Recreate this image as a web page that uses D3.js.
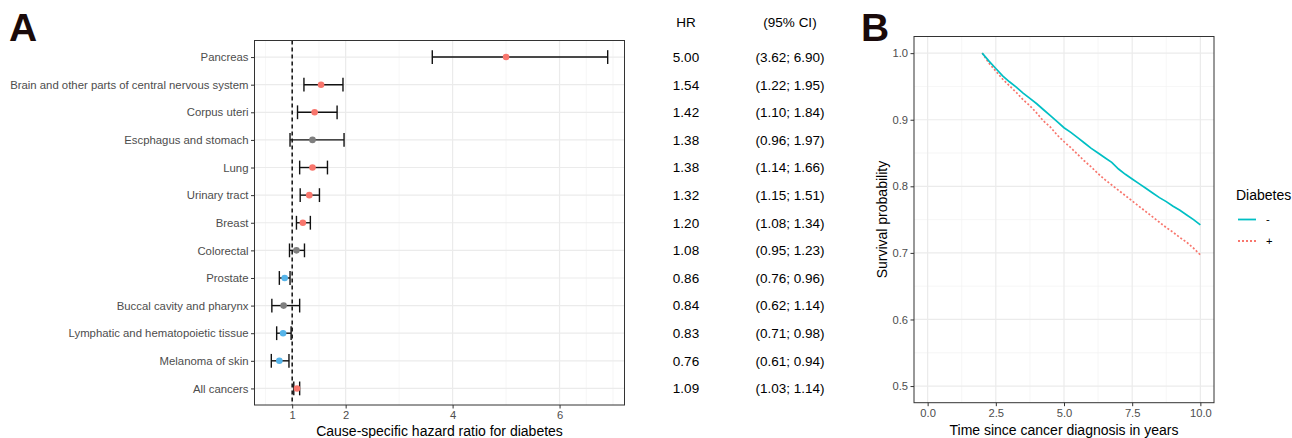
<!DOCTYPE html>
<html>
<head>
<meta charset="utf-8">
<script src="https://cdn.jsdelivr.net/npm/d3@7"></script>
<style>
  body { margin: 0; background: #fff; }
  svg { font-family: "Liberation Sans", Arial, sans-serif; }
</style>
</head>
<body>
<script>
// panel A data - cause-specific hazard ratios
const causes = ["Pancreas", "Brain and other parts of central nervous system", "Corpus uteri",
  "Escphagus and stomach", "Lung", "Urinary tract", "Breast", "Colorectal", "Prostate",
  "Buccal cavity and pharynx", "Lymphatic and hematopoietic tissue", "Melanoma of skin", "All cancers"];
const hr =    [5.00, 1.54, 1.42, 1.38, 1.38, 1.32, 1.20, 1.08, 0.86, 0.84, 0.83, 0.76, 1.09];
const lower = [3.62, 1.22, 1.10, 0.96, 1.14, 1.15, 1.08, 0.95, 0.76, 0.62, 0.71, 0.61, 1.03];
const upper = [6.90, 1.95, 1.84, 1.97, 1.66, 1.51, 1.34, 1.23, 0.96, 1.14, 0.98, 0.94, 1.14];
const effect = ["up", "up", "up", "ns", "up", "up", "up", "ns", "down", "ns", "down", "down", "up"];
const hrTicks = [1, 2, 4, 6];
const hrMinor = [0.5, 1.5, 3, 5, 6.5, 7];

// panel B data - survival curves
const years = [2.0, 2.25, 2.5, 2.75, 3.0, 3.25, 3.5, 3.75, 4.0, 4.25, 4.5, 4.75, 5.0, 5.25, 5.5, 5.75,
  6.0, 6.25, 6.5, 6.75, 7.0, 7.25, 7.5, 7.75, 8.0, 8.25, 8.5, 8.75, 9.0, 9.25, 9.5, 9.75, 10.0];
const survNoDiab = [1.000, 0.988, 0.977, 0.966, 0.957, 0.949, 0.940, 0.932, 0.924, 0.915, 0.906, 0.897,
  0.888, 0.881, 0.873, 0.865, 0.857, 0.850, 0.843, 0.836, 0.826, 0.818, 0.811, 0.804, 0.797, 0.790,
  0.783, 0.777, 0.770, 0.764, 0.757, 0.750, 0.742];
const survDiab = [1.000, 0.985, 0.973, 0.961, 0.951, 0.941, 0.930, 0.921, 0.910, 0.898, 0.889, 0.877,
  0.867, 0.858, 0.848, 0.838, 0.829, 0.819, 0.810, 0.802, 0.794, 0.786, 0.778, 0.770, 0.762, 0.754,
  0.746, 0.738, 0.731, 0.723, 0.716, 0.707, 0.697];
const timeTicks = [0, 2.5, 5, 7.5, 10];
const timeMinor = [1.25, 3.75, 6.25, 8.75];
const survTicks = [0.5, 0.6, 0.7, 0.8, 0.9, 1.0];
const survMinor = [0.55, 0.65, 0.75, 0.85, 0.95];
const groups = ["-", "+"];

var w = 1292, h = 438;
var f2 = d3.format(".2f");
var effectColor = { up: "#F8766D", ns: "#7F7F7F", down: "#56B4E9" };

var svg = d3.select("body").append("svg")
  .attr("width", w)
  .attr("height", h);

// ---------- panel A ----------
var A = { left: 254.5, right: 624.5, top: 40.5, bottom: 405 };

var xLo = d3.min(lower), xHi = d3.max(upper), pad = (xHi - xLo) * 0.05;
var xA = d3.scaleLinear().domain([xLo - pad, xHi + pad]).range([A.left, A.right]);
var yA = d3.scalePoint().domain(causes).range([A.top, A.bottom]).padding(0.6);
var band = yA.step();

var gA = svg.append("g");

gA.selectAll(".minorA").data(hrMinor).enter().append("line")
  .attr("x1", d => xA(d)).attr("x2", d => xA(d))
  .attr("y1", A.top).attr("y2", A.bottom)
  .attr("stroke", "#F2F2F2").attr("stroke-width", 0.7);
gA.selectAll(".majorAx").data(hrTicks).enter().append("line")
  .attr("x1", d => xA(d)).attr("x2", d => xA(d))
  .attr("y1", A.top).attr("y2", A.bottom)
  .attr("stroke", "#EBEBEB").attr("stroke-width", 1.2);
gA.selectAll(".majorAy").data(causes).enter().append("line")
  .attr("x1", A.left).attr("x2", A.right)
  .attr("y1", d => yA(d)).attr("y2", d => yA(d))
  .attr("stroke", "#EBEBEB").attr("stroke-width", 1.2);

// reference line at HR = 1
gA.append("line")
  .attr("x1", xA(1)).attr("x2", xA(1))
  .attr("y1", A.top).attr("y2", A.bottom)
  .attr("stroke", "#000").attr("stroke-width", 1.4)
  .attr("stroke-dasharray", "4,3");

var rows = causes.map((c, i) => ({ cause: c, hr: hr[i], lo: lower[i], hi: upper[i], eff: effect[i] }));

var bars = gA.selectAll(".ci").data(rows).enter().append("g");
bars.append("line")
  .attr("x1", d => xA(d.lo)).attr("x2", d => xA(d.hi))
  .attr("y1", d => yA(d.cause)).attr("y2", d => yA(d.cause))
  .attr("stroke", "#111").attr("stroke-width", 1.4);
bars.append("line")
  .attr("x1", d => xA(d.lo)).attr("x2", d => xA(d.lo))
  .attr("y1", d => yA(d.cause) - band / 4).attr("y2", d => yA(d.cause) + band / 4)
  .attr("stroke", "#111").attr("stroke-width", 1.4);
bars.append("line")
  .attr("x1", d => xA(d.hi)).attr("x2", d => xA(d.hi))
  .attr("y1", d => yA(d.cause) - band / 4).attr("y2", d => yA(d.cause) + band / 4)
  .attr("stroke", "#111").attr("stroke-width", 1.4);
bars.append("circle")
  .attr("cx", d => xA(d.hr)).attr("cy", d => yA(d.cause))
  .attr("r", 3.3)
  .attr("fill", d => effectColor[d.eff]);

gA.append("rect")
  .attr("x", A.left).attr("y", A.top)
  .attr("width", A.right - A.left).attr("height", A.bottom - A.top)
  .attr("fill", "none").attr("stroke", "#333").attr("stroke-width", 1);

// axes
var xAxisA = d3.axisBottom(xA).tickValues(hrTicks).tickFormat(d3.format("d")).tickSize(3.5).tickPadding(3);
var yAxisA = d3.axisLeft(yA).tickSize(3.5).tickPadding(2.5);

gA.append("g").attr("class", "axis")
  .attr("transform", "translate(0," + A.bottom + ")")
  .call(xAxisA);
gA.append("g").attr("class", "axis yA")
  .attr("transform", "translate(" + A.left + ",0)")
  .call(yAxisA);

gA.append("text")
  .attr("x", (A.left + A.right) / 2).attr("y", 435.5)
  .attr("text-anchor", "middle")
  .attr("font-size", 14).attr("fill", "#000")
  .text("Cause-specific hazard ratio for diabetes");

// HR and CI columns
gA.append("text").attr("x", 686).attr("y", 27).attr("text-anchor", "middle")
  .attr("font-size", 13.5).text("HR");
gA.append("text").attr("x", 790).attr("y", 27).attr("text-anchor", "middle")
  .attr("font-size", 13.5).text("(95% CI)");
gA.selectAll(".hrtxt").data(rows).enter().append("text")
  .attr("x", 686).attr("y", d => yA(d.cause)).attr("dy", "0.36em")
  .attr("text-anchor", "middle").attr("font-size", 13.5)
  .text(d => f2(d.hr));
gA.selectAll(".citxt").data(rows).enter().append("text")
  .attr("x", 790).attr("y", d => yA(d.cause)).attr("dy", "0.36em")
  .attr("text-anchor", "middle").attr("font-size", 13.5)
  .text(d => "(" + f2(d.lo) + "; " + f2(d.hi) + ")");

// ---------- panel B ----------
var B = { left: 914, right: 1214, top: 36.5, bottom: 402.7 };
var xB = d3.scaleLinear().domain([-0.5, 10.5]).range([B.left, B.right]);
var yB = d3.scaleLinear().domain([0.475, 1.025]).range([B.bottom, B.top]);
var colB = d3.scaleOrdinal().domain(groups).range(["#00BFC4", "#F8766D"]);
var dashB = { "-": null, "+": "2,2" };

var gB = svg.append("g");

gB.selectAll(".minorBx").data(timeMinor).enter().append("line")
  .attr("x1", d => xB(d)).attr("x2", d => xB(d))
  .attr("y1", B.top).attr("y2", B.bottom)
  .attr("stroke", "#F2F2F2").attr("stroke-width", 0.7);
gB.selectAll(".minorBy").data(survMinor).enter().append("line")
  .attr("x1", B.left).attr("x2", B.right)
  .attr("y1", d => yB(d)).attr("y2", d => yB(d))
  .attr("stroke", "#F2F2F2").attr("stroke-width", 0.7);
gB.selectAll(".majorBx").data(timeTicks).enter().append("line")
  .attr("x1", d => xB(d)).attr("x2", d => xB(d))
  .attr("y1", B.top).attr("y2", B.bottom)
  .attr("stroke", "#EBEBEB").attr("stroke-width", 1.2);
gB.selectAll(".majorBy").data(survTicks).enter().append("line")
  .attr("x1", B.left).attr("x2", B.right)
  .attr("y1", d => yB(d)).attr("y2", d => yB(d))
  .attr("stroke", "#EBEBEB").attr("stroke-width", 1.2);

var curves = [
  { group: "-", values: years.map((t, i) => [t, survNoDiab[i]]) },
  { group: "+", values: years.map((t, i) => [t, survDiab[i]]) }
];
var line = d3.line().x(d => xB(d[0])).y(d => yB(d[1]));

gB.selectAll(".curve").data(curves.slice().reverse()).enter().append("path")
  .attr("d", d => line(d.values))
  .attr("fill", "none")
  .attr("stroke", d => colB(d.group))
  .attr("stroke-width", 1.7)
  .attr("stroke-dasharray", d => dashB[d.group]);

gB.append("rect")
  .attr("x", B.left).attr("y", B.top)
  .attr("width", B.right - B.left).attr("height", B.bottom - B.top)
  .attr("fill", "none").attr("stroke", "#333").attr("stroke-width", 1);

var xAxisB = d3.axisBottom(xB).tickValues(timeTicks).tickFormat(d3.format(".1f")).tickSize(3.5).tickPadding(3);
var yAxisB = d3.axisLeft(yB).tickValues(survTicks).tickFormat(d3.format(".1f")).tickSize(3.5).tickPadding(2.5);

gB.append("g").attr("class", "axis")
  .attr("transform", "translate(0," + B.bottom + ")")
  .call(xAxisB);
gB.append("g").attr("class", "axis")
  .attr("transform", "translate(" + B.left + ",0)")
  .call(yAxisB);

gB.append("text")
  .attr("x", (B.left + B.right) / 2).attr("y", 435)
  .attr("text-anchor", "middle")
  .attr("font-size", 14).attr("fill", "#000")
  .text("Time since cancer diagnosis in years");
gB.append("text")
  .attr("transform", "translate(887," + (B.top + B.bottom) / 2 + ") rotate(-90)")
  .attr("text-anchor", "middle")
  .attr("font-size", 14).attr("fill", "#000")
  .text("Survival probability");

// legend
var legend = gB.append("g").attr("transform", "translate(1236,0)");
legend.append("text").attr("x", 0).attr("y", 200).attr("font-size", 14).text("Diabetes");
var items = legend.selectAll(".legend").data(groups).enter().append("g")
  .attr("transform", (d, i) => "translate(0," + (219.5 + i * 21.5) + ")");
items.append("line")
  .attr("x1", 2).attr("x2", 20)
  .attr("stroke", d => colB(d)).attr("stroke-width", 1.8)
  .attr("stroke-dasharray", d => dashB[d]);
items.append("text")
  .attr("x", 30).attr("dy", "0.35em")
  .attr("font-size", 11.2).attr("fill", "#000")
  .text(d => d);

// axis styling (ggplot theme_bw look)
svg.selectAll(".axis path").remove();
svg.selectAll(".axis .tick line").attr("stroke", "#333");
svg.selectAll(".axis .tick text")
  .attr("fill", "#4D4D4D")
  .style("font-size", "11.2px")
  .style("font-family", "'Liberation Sans', Arial, sans-serif");
svg.selectAll(".yA .tick text").style("font-size", "11.35px");

// panel letters
svg.append("text").attr("x", 9).attr("y", 41).attr("font-size", 39).attr("font-weight", "bold")
  .attr("fill", "#1A0A0A").text("A");
svg.append("text").attr("x", 861).attr("y", 41).attr("font-size", 39).attr("font-weight", "bold")
  .attr("fill", "#1A0A0A").text("B");
</script>
</body>
</html>
